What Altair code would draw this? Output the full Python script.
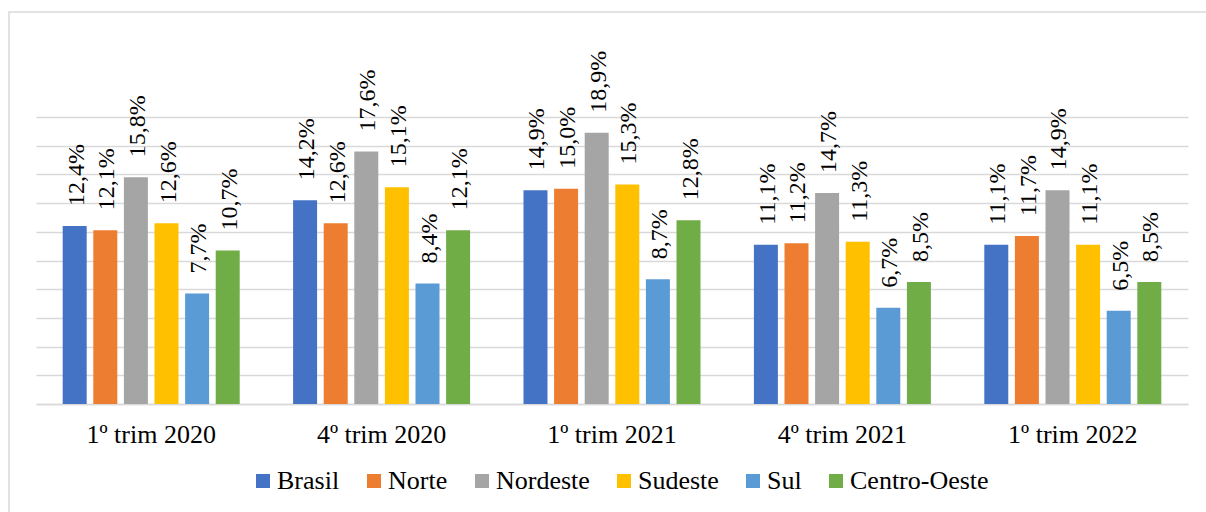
import altair as alt
import pandas as pd

periods = ["1º trim 2020", "4º trim 2020", "1º trim 2021", "4º trim 2021", "1º trim 2022"]
regions = ["Brasil", "Norte", "Nordeste", "Sudeste", "Sul", "Centro-Oeste"]
colors = ["#4472C4", "#ED7D31", "#A5A5A5", "#FFC000", "#5B9BD5", "#70AD47"]

brasil = [12.4, 14.2, 14.9, 11.1, 11.1]
norte = [12.1, 12.6, 15.0, 11.2, 11.7]
nordeste = [15.8, 17.6, 18.9, 14.7, 14.9]
sudeste = [12.6, 15.1, 15.3, 11.3, 11.1]
sul = [7.7, 8.4, 8.7, 6.7, 6.5]
centro_oeste = [10.7, 12.1, 12.8, 8.5, 8.5]

series = [brasil, norte, nordeste, sudeste, sul, centro_oeste]
rows = []
for reg, vals in zip(regions, series):
    for per, v in zip(periods, vals):
        rows.append({"periodo": per, "regiao": reg, "valor": v,
                     "rotulo": f"{v:.1f}".replace(".", ",") + "%"})
df = pd.DataFrame(rows)

FONT = "Liberation Serif"

yaxis = alt.Axis(values=list(range(0, 21, 2)), labels=False, ticks=False,
                 domain=False, grid=True, gridColor="#d9d9d9", gridWidth=1.5)
yscale = alt.Scale(domain=[0, 20], nice=False)

base = alt.Chart(df).encode(
    x=alt.X("periodo:N", sort=periods, title=None,
            scale=alt.Scale(paddingInner=0.203, paddingOuter=0.1015),
            axis=alt.Axis(labelAngle=0, ticks=False, labelPadding=17,
                          labelFont=FONT, labelFontSize=26, labelColor="#000000",
                          domainColor="#d9d9d9", domainWidth=1.5)),
    xOffset=alt.XOffset("regiao:N", sort=regions,
                        scale=alt.Scale(paddingInner=0.216, paddingOuter=0.108)),
    y=alt.Y("valor:Q", title=None, scale=yscale, axis=yaxis),
)

bars = base.mark_bar().encode(
    color=alt.Color("regiao:N", sort=regions,
                    scale=alt.Scale(domain=regions, range=colors),
                    legend=alt.Legend(title=None, orient="none", direction="horizontal",
                                      legendX=214, legendY=351, padding=0,
                                      symbolType="square", symbolSize=196,
                                      symbolStrokeWidth=0, labelOffset=1,
                                      columnPadding=21, labelFont=FONT,
                                      labelFontSize=26, labelColor="#000000",
                                      labelLimit=300)),
)

labels = base.mark_text(angle=270, align="left", baseline="middle", dx=20, dy=2,
                        font=FONT, fontSize=24, color="#000000").encode(
    text="rotulo:N",
)

frame = alt.Chart(alt.Data(values=[{"a": 1}])).mark_rect(
    fill="transparent", stroke="#d9d9d9", strokeWidth=1.5
).encode(
    x=alt.value(-27), x2=alt.value(1190), y=alt.value(-105), y2=alt.value(420)
)

chart = alt.layer(frame, bars, labels).properties(
    width=1152, height=287,
    autosize=alt.AutoSizeParams(type="none"),
    padding={"left": 36, "top": 117, "right": 18, "bottom": 108},
    background="white",
).configure_view(stroke=None)

chart.save("out.html", embed_options={"renderer": "svg", "actions": False})
